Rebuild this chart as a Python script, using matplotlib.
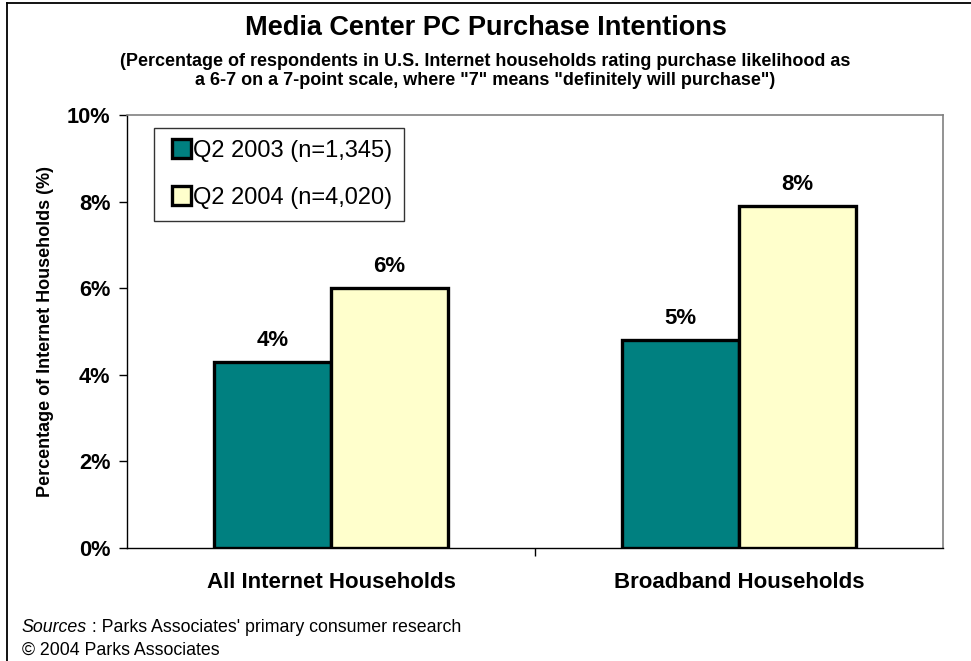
import matplotlib
matplotlib.use("Agg")
import matplotlib.pyplot as plt
from matplotlib.patches import Patch, Rectangle
from matplotlib.lines import Line2D
from matplotlib.legend_handler import HandlerPatch

# ---- data ----
categories = ["All Internet Households", "Broadband Households"]
series_names = ["Q2 2003 (n=1,345)", "Q2 2004 (n=4,020)"]
q2_2003 = [4.3, 4.8]
q2_2004 = [6.0, 7.9]
y_ticks = [0, 2, 4, 6, 8, 10]

title = "Media Center PC Purchase Intentions"
subtitle = ("(Percentage of respondents in U.S. Internet households rating purchase likelihood as\n"
            "a 6-7 on a 7-point scale, where \"7\" means \"definitely will purchase\")")
y_label = "Percentage of Internet Households (%)"
source_head = "Sources"
source_tail = " : Parks Associates' primary consumer research"
copyright_line = "\u00a9 2004 Parks Associates"

TEAL = "#008080"
CREAM = "#FFFFCC"
FONT = ["Liberation Sans", "DejaVu Sans"]

W, H = 971, 661
fig = plt.figure(figsize=(W / 100, H / 100), dpi=100)
fig.patch.set_facecolor("white")


def fx(px):
    return px / W


def fy(py):
    return 1 - py / H


# frame lines along the top and left of the figure
fig.add_artist(Line2D([fx(7), fx(W + 5)], [fy(3), fy(3)], color="black", lw=1.3,
                      transform=fig.transFigure))
fig.add_artist(Line2D([fx(7), fx(7)], [fy(3), fy(H + 5)], color="black", lw=1.3,
                      transform=fig.transFigure))

left, right, top, bottom = 127, 943, 115, 548
ax = fig.add_axes([fx(left), fy(bottom), (right - left) / W, (bottom - top) / H])

bar_w = 0.2865
x = list(range(len(categories)))
series = [q2_2003, q2_2004]
colors = [TEAL, CREAM]
offsets = [-bar_w / 2, bar_w / 2]

for vals, col, off in zip(series, colors, offsets):
    pos = [xi + off for xi in x]
    ax.bar(pos, vals, width=bar_w, color=col, edgecolor="black",
           linewidth=2.4, zorder=3)
    for p, v in zip(pos, vals):
        ax.annotate(f"{v:.0f}%", (p, v), xytext=(0, 8), textcoords="offset points",
                    ha="center", va="bottom", fontsize=16, fontweight="bold",
                    family=FONT)

ax.set_xlim(-0.5, len(categories) - 0.5)
ax.set_ylim(0, 10)

ax.set_yticks(y_ticks)
ax.set_yticklabels([f"{t}%" for t in y_ticks], fontsize=15.7, fontweight="bold",
                   family=FONT)
ax.tick_params(axis="y", direction="out", length=6, width=1, pad=6)

ax.set_xticks(x)
ax.set_xticklabels(categories, fontsize=16, fontweight="bold", family=FONT)
ax.tick_params(axis="x", which="major", length=0, pad=17)
ax.set_xticks([0.5], minor=True)
ax.tick_params(axis="x", which="minor", direction="out", length=6, width=1)

ax.set_ylabel(y_label, fontsize=13, fontweight="bold", family=FONT, labelpad=9)

for s in ("top", "right"):
    ax.spines[s].set_color("#808080")
    ax.spines[s].set_linewidth(1.2)
for s in ("left", "bottom"):
    ax.spines[s].set_color("black")
    ax.spines[s].set_linewidth(1.0)


def square_key(legend, orig_handle, xdescent, ydescent, width, height, fontsize):
    # small square key sitting at the right end of the handle box
    s = 0.78 * fontsize
    return Rectangle((-xdescent + width - s, -ydescent + (height - s) / 2), s, s)


handles = [Patch(facecolor=c, edgecolor="black", linewidth=2.4) for c in colors]
leg = ax.legend(handles, series_names, loc="upper left",
                bbox_to_anchor=((154 - left) / (right - left), (bottom - 128) / (bottom - top)),
                borderaxespad=0, fancybox=False, frameon=True, edgecolor="black",
                prop={"family": FONT, "size": 17}, handlelength=1.05,
                handleheight=0.78, handletextpad=0.12, labelspacing=1.05,
                borderpad=0.5,
                handler_map={Patch: HandlerPatch(patch_func=square_key)})
leg.get_frame().set_linewidth(1.0)

fig.text(0.5, fy(28), title, ha="center", va="center", fontsize=19.5,
         fontweight="bold", family=FONT)
fig.text(0.5, fy(71), subtitle, ha="center", va="center", fontsize=13,
         fontweight="bold", family=FONT, linespacing=1.2)

# source line: italic head followed by regular text
head = fig.text(fx(22), fy(628), source_head, ha="left", va="center", fontsize=12.8,
                style="italic", family=FONT)
fig.canvas.draw()
bb = head.get_window_extent(renderer=fig.canvas.get_renderer())
fig.text(bb.x1 / W, fy(628), source_tail, ha="left", va="center", fontsize=12.8,
         family=FONT)
fig.text(fx(22), fy(650), copyright_line, ha="left", va="center",
         fontsize=12.8, family=FONT)

fig.savefig("out.png", dpi=100)
